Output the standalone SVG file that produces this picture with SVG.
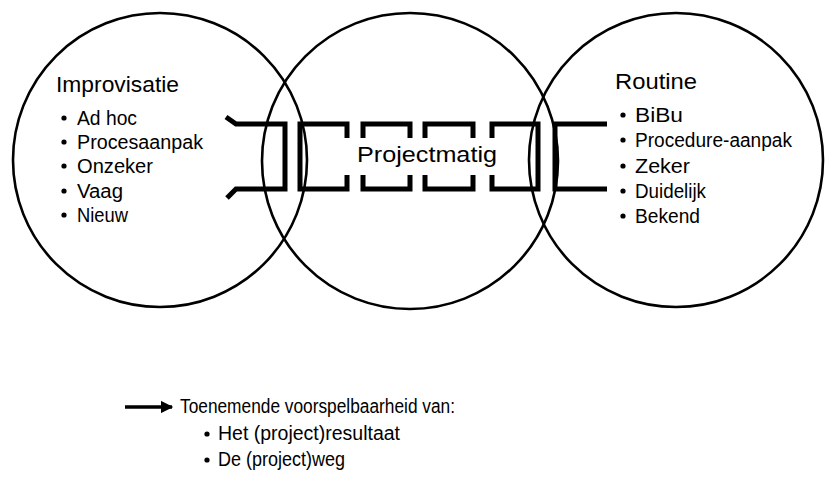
<svg xmlns="http://www.w3.org/2000/svg" width="827" height="481" viewBox="0 0 827 481">
  <defs>
    <style>
      .ring { fill: none; stroke: #000; stroke-width: 2.6; }
      .chain { fill: none; stroke: #000; stroke-width: 5; stroke-linejoin: miter; stroke-linecap: butt; }
      .head { font-family: "Liberation Sans", Arial, sans-serif; font-size: 22px; fill: #000; }
      .item { font-family: "Liberation Sans", Arial, sans-serif; font-size: 20px; fill: #000; }
      .dot { fill: #000; }
    </style>
    <marker id="arrowhead" viewBox="0 0 10 10" refX="9" refY="5" markerWidth="4" markerHeight="3.6" orient="auto" markerUnits="strokeWidth">
      <path d="M0,0 L10,5 L0,10 Z" fill="#000"/>
    </marker>
  </defs>
  <rect width="827" height="481" fill="#fff"/>

  <!-- left circle: improvisation -->
  <g id="improvisatie">
    <circle class="ring" cx="160" cy="160" r="147"/>
    <text class="head" x="56" y="92" textLength="123" lengthAdjust="spacingAndGlyphs">Improvisatie</text>
    <circle class="dot" cx="64" cy="118" r="2.6"/>
    <text class="item" x="77" y="125" textLength="60" lengthAdjust="spacingAndGlyphs">Ad hoc</text>
    <circle class="dot" cx="64" cy="142" r="2.6"/>
    <text class="item" x="77" y="149" textLength="126" lengthAdjust="spacingAndGlyphs">Procesaanpak</text>
    <circle class="dot" cx="64" cy="166" r="2.6"/>
    <text class="item" x="77" y="173" textLength="76" lengthAdjust="spacingAndGlyphs">Onzeker</text>
    <circle class="dot" cx="64" cy="191" r="2.6"/>
    <text class="item" x="77" y="198" textLength="46" lengthAdjust="spacingAndGlyphs">Vaag</text>
    <circle class="dot" cx="64" cy="215" r="2.6"/>
    <text class="item" x="77" y="222" textLength="51" lengthAdjust="spacingAndGlyphs">Nieuw</text>
  </g>

  <!-- middle circle: project-based -->
  <g id="projectmatig">
    <circle class="ring" cx="410" cy="161" r="148"/>
    <text class="head" x="357" y="162" textLength="140" lengthAdjust="spacingAndGlyphs">Projectmatig</text>
  </g>

  <!-- right circle: routine -->
  <g id="routine">
    <circle class="ring" cx="676" cy="160" r="147"/>
    <text class="head" x="615" y="89" textLength="82" lengthAdjust="spacingAndGlyphs">Routine</text>
    <circle class="dot" cx="623" cy="115" r="2.6"/>
    <text class="item" x="635" y="122" textLength="48" lengthAdjust="spacingAndGlyphs">BiBu</text>
    <circle class="dot" cx="623" cy="140" r="2.6"/>
    <text class="item" x="635" y="147" textLength="157" lengthAdjust="spacingAndGlyphs">Procedure-aanpak</text>
    <circle class="dot" cx="623" cy="166" r="2.6"/>
    <text class="item" x="635" y="173" textLength="55" lengthAdjust="spacingAndGlyphs">Zeker</text>
    <circle class="dot" cx="623" cy="191" r="2.6"/>
    <text class="item" x="635" y="198" textLength="71" lengthAdjust="spacingAndGlyphs">Duidelijk</text>
    <circle class="dot" cx="623" cy="216" r="2.6"/>
    <text class="item" x="635" y="223" textLength="65" lengthAdjust="spacingAndGlyphs">Bekend</text>
  </g>

  <!-- chain of links joining the three circles -->
  <g id="connectors">
    <path class="chain" d="M226,117 L236,124 L285,124 L285,189 L236,189 L227,198"/>
    <path class="chain" d="M347,138 L347,124 L300,124 L300,189 L347,189 L347,175"/>
    <path class="chain" d="M363,138 L363,124 L410,124 L410,138 M363,175 L363,189 L410,189 L410,175"/>
    <path class="chain" d="M425,138 L425,124 L473,124 L473,138 M425,175 L425,189 L473,189 L473,175"/>
    <path class="chain" d="M492,138 L492,124 L538,124 L538,189 L492,189 L492,175"/>
    <path class="chain" d="M607,124 L555,124 L555,189 L607,189"/>
    <line x1="125" y1="407" x2="172" y2="407" stroke="#000" stroke-width="3.4" marker-end="url(#arrowhead)"/>
  </g>

  <!-- legend -->
  <g id="legend">
    <text class="item" x="180" y="413" textLength="275" lengthAdjust="spacingAndGlyphs">Toenemende voorspelbaarheid van:</text>
    <circle class="dot" cx="207" cy="434" r="2.6"/>
    <text class="item" x="218" y="440" textLength="182" lengthAdjust="spacingAndGlyphs">Het (project)resultaat</text>
    <circle class="dot" cx="207" cy="460" r="2.6"/>
    <text class="item" x="218" y="466" textLength="127" lengthAdjust="spacingAndGlyphs">De (project)weg</text>
  </g>
</svg>
